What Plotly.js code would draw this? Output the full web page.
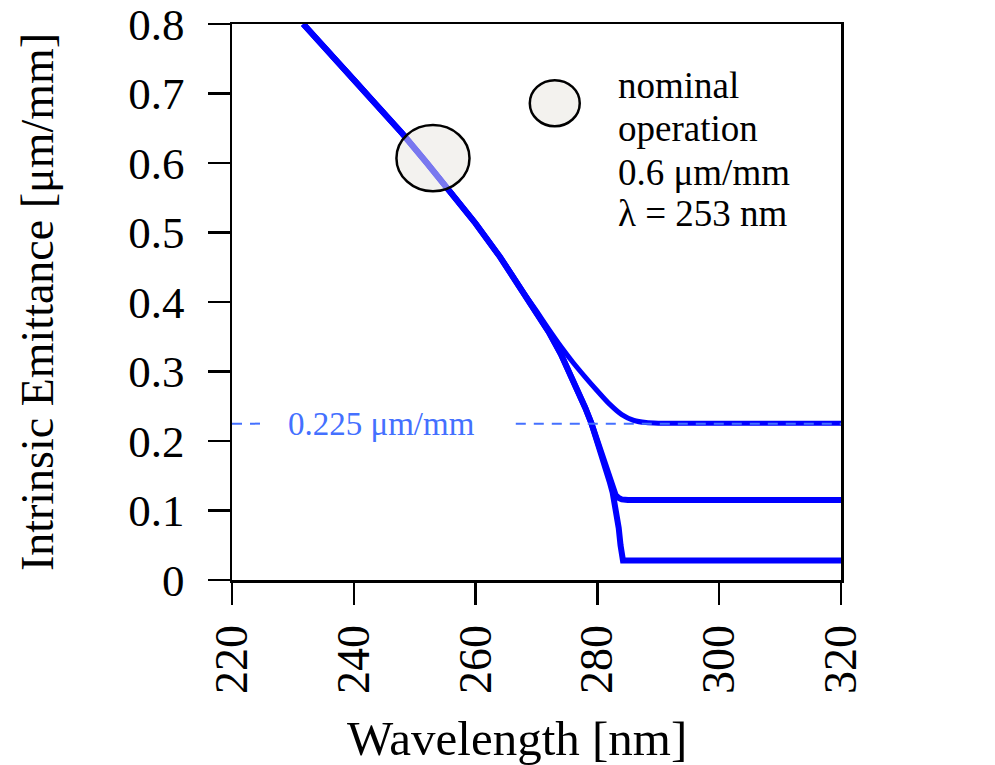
<!DOCTYPE html>
<html>
<head>
<meta charset="utf-8">
<script src="https://cdn.plot.ly/plotly-3.0.1.min.js"></script>
<style>html,body{margin:0;padding:0;background:#fff;}#chart{width:995px;height:765px;}</style>
</head>
<body>
<div id="chart"></div>
<script>
// ---- data ----
var wl300 = [231.7, 236, 240, 244, 248, 252, 256, 260, 264, 266, 268, 270, 272, 274, 276, 278, 280, 282, 284, 286, 288, 290, 292, 300, 320];
var em300 = [0.800, 0.759, 0.721, 0.681, 0.642, 0.600, 0.557, 0.513, 0.465, 0.439, 0.412, 0.387, 0.361, 0.336, 0.313, 0.292, 0.272, 0.253, 0.238, 0.2295, 0.2265, 0.2257, 0.2255, 0.2255, 0.2255];

var wl77 = [231.7, 236, 240, 244, 248, 252, 256, 260, 264, 268, 270, 272, 274, 276, 277, 278, 279, 280, 281, 282, 282.5, 283, 283.5, 284, 285, 320];
var em77 = [0.800, 0.759, 0.721, 0.681, 0.642, 0.600, 0.557, 0.513, 0.465, 0.412, 0.386, 0.357, 0.325, 0.288, 0.269, 0.248, 0.226, 0.200, 0.172, 0.142, 0.130, 0.122, 0.118, 0.116, 0.115, 0.115];

var wl4 = [231.7, 236, 240, 244, 248, 252, 256, 260, 264, 268, 270, 272, 274, 276, 277, 278, 279, 280, 281, 282, 282.5, 283, 283.5, 283.8, 284.0, 284.2, 320];
var em4 = [0.800, 0.759, 0.721, 0.681, 0.642, 0.600, 0.557, 0.513, 0.465, 0.412, 0.386, 0.357, 0.325, 0.288, 0.269, 0.248, 0.226, 0.200, 0.172, 0.142, 0.126, 0.104, 0.075, 0.050, 0.033, 0.028, 0.028];

var refLevel = 0.225;
var refX = [220, 224.9, null, 266.6, 320];
var refY = [refLevel, refLevel, null, refLevel, refLevel];

var nominalWl = 253, nominalEm = 0.607;      // nominal operating point
var legendWl = 273, legendEm = 0.686;        // marker beside the note
var noteLines = ["nominal", "operation", "0.6 μm/mm", "λ = 253 nm"];
var noteY = [0.712, 0.650, 0.587, 0.527];

var seriesNames = ["300 K", "77 K", "4 K"];
var seriesLabelY = [0.246, 0.128, 0.046];

var xTicks = [220, 240, 260, 280, 300, 320];
var yTicks = [0, 0.1, 0.2, 0.3, 0.4, 0.5, 0.6, 0.7, 0.8];
var yTickText = ["0", "0.1", "0.2", "0.3", "0.4", "0.5", "0.6", "0.7", "0.8"];

// ---- styling ----
var SERIF = "Liberation Serif";
var BLUE = "#0000ff";
var LBLUE = "#4470ff";
var FILL = "rgba(232,230,224,0.52)";

var traces = [
  {x: wl300, y: em300, mode: "lines", line: {color: BLUE, width: 5, shape: "spline", smoothing: 0.6}, name: seriesNames[0], hoverinfo: "skip"},
  {x: wl77, y: em77, mode: "lines", line: {color: BLUE, width: 6}, name: seriesNames[1], hoverinfo: "skip"},
  {x: wl4, y: em4, mode: "lines", line: {color: BLUE, width: 6}, name: seriesNames[2], hoverinfo: "skip"},
  {x: refX, y: refY, mode: "lines", connectgaps: false, line: {color: LBLUE, width: 2, dash: "10px,8px"}, hoverinfo: "skip"}
];

var halfBigX = 6.0, halfBigY = 0.0476, halfSmX = 4.1, halfSmY = 0.0332;

var annotations = [
  {xref: "x", yref: "y", x: 244.5, y: refLevel, xanchor: "center", yanchor: "middle", showarrow: false,
   text: "0.225 μm/mm", font: {family: SERIF, size: 33, color: LBLUE}},
  {xref: "paper", yref: "paper", x: 0.468, y: -0.285, xanchor: "center", yanchor: "middle", showarrow: false,
   text: "Wavelength [nm]", font: {family: SERIF, size: 49, color: "#000"}}
];
noteLines.forEach(function (t, i) {
  annotations.push({xref: "x", yref: "y", x: 283.0, y: noteY[i], xanchor: "left", yanchor: "middle", showarrow: false,
    text: t, font: {family: SERIF, size: 37, color: "#000"}});
});
seriesNames.forEach(function (t, i) {
  annotations.push({xref: "x", yref: "y", x: 323.2, y: seriesLabelY[i], xanchor: "left", yanchor: "middle", showarrow: false,
    text: t, font: {family: SERIF, size: 49, color: LBLUE}});
});

var layout = {
  width: 995, height: 765,
  margin: {l: 232, r: 154, t: 24, b: 185},
  paper_bgcolor: "#fff", plot_bgcolor: "#fff",
  showlegend: false,
  font: {family: SERIF, color: "#000"},
  xaxis: {
    range: [220, 320], tickvals: xTicks, ticktext: xTicks.map(String),
    tickangle: -90, ticks: "outside", ticklen: 22, tickwidth: 2.5, tickcolor: "#000",
    showline: true, linewidth: 2.5, linecolor: "#000", mirror: true,
    showgrid: false, zeroline: false, ticklabelstandoff: 2, ticklabeloverflow: "allow",
    tickfont: {family: SERIF, size: 46, color: "#000"}
  },
  yaxis: {
    range: [0, 0.8], tickvals: yTicks, ticktext: yTickText,
    ticks: "outside", ticklen: 22, tickwidth: 2.5, tickcolor: "#000",
    showline: true, linewidth: 2.5, linecolor: "#000", mirror: true,
    showgrid: false, zeroline: false, ticklabelstandoff: 14, ticklabeloverflow: "allow",
    tickfont: {family: SERIF, size: 45, color: "#000"},
    title: {text: "Intrinsic Emittance [μm/mm]", font: {family: SERIF, size: 46, color: "#000"}, standoff: 60}
  },
  shapes: [
    {type: "circle", xref: "x", yref: "y", x0: nominalWl - halfBigX, x1: nominalWl + halfBigX,
     y0: nominalEm - halfBigY, y1: nominalEm + halfBigY, fillcolor: FILL, line: {color: "#000", width: 2.5}, layer: "above"},
    {type: "circle", xref: "x", yref: "y", x0: legendWl - halfSmX, x1: legendWl + halfSmX,
     y0: legendEm - halfSmY, y1: legendEm + halfSmY, fillcolor: "#f3f2ee", line: {color: "#000", width: 2.5}, layer: "above"}
  ],
  annotations: annotations
};

Plotly.newPlot("chart", traces, layout, {displayModeBar: false, staticPlot: true});
</script>
</body>
</html>
